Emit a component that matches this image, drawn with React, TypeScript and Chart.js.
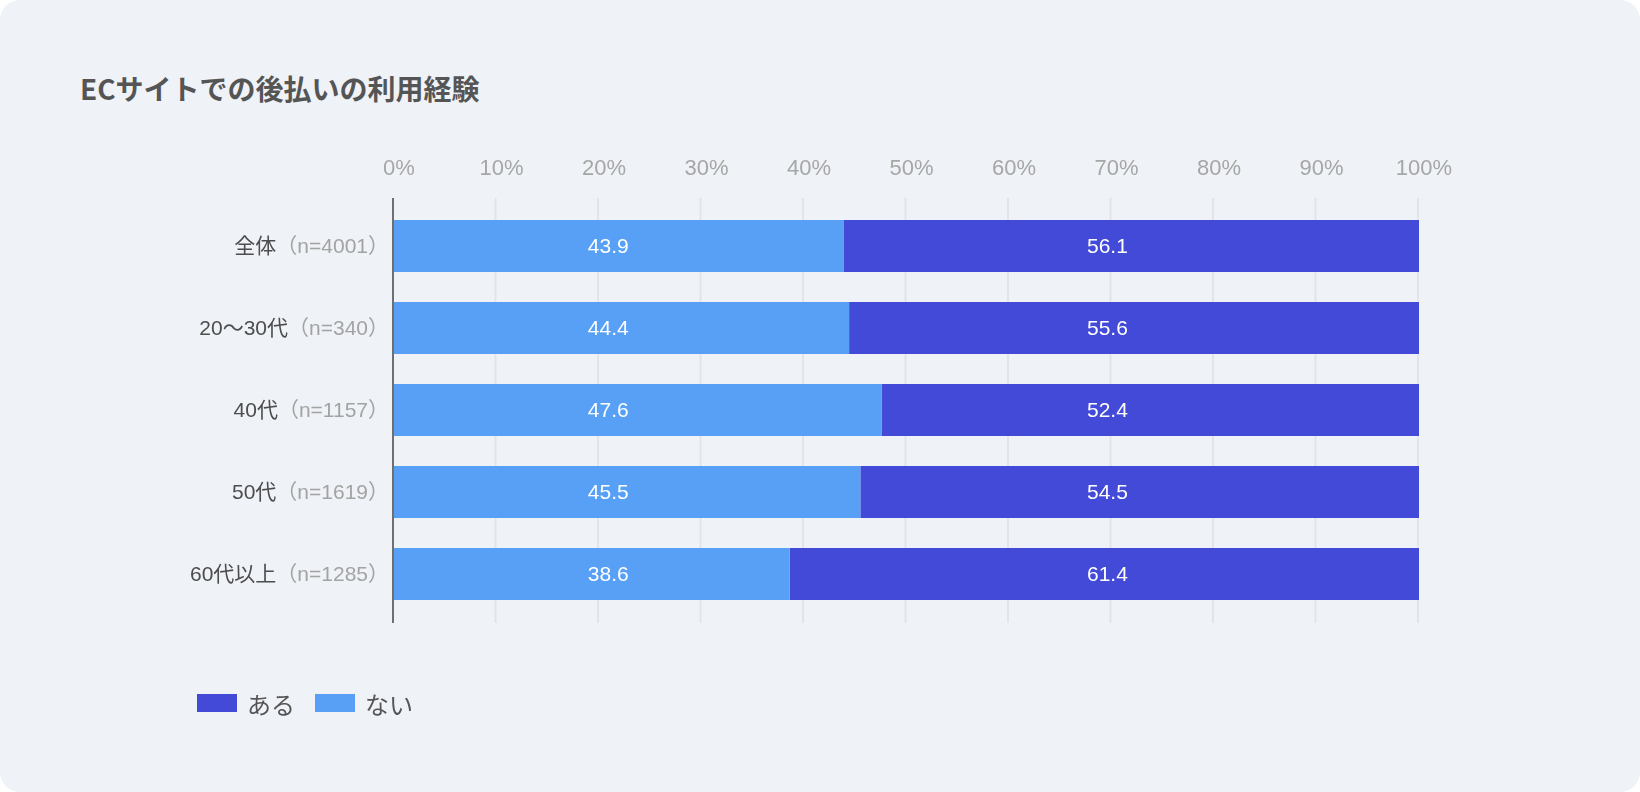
import React, { useEffect, useRef } from 'react';
import { Chart, registerables } from 'chart.js';

Chart.register(...registerables);

const categories = ['全体', '20〜30代', '40代', '50代', '60代以上'];
const sampleSizes = ['（n=4001）', '（n=340）', '（n=1157）', '（n=1619）', '（n=1285）'];
const naiValues = [43.9, 44.4, 47.6, 45.5, 38.6];
const aruValues = [56.1, 55.6, 52.4, 54.5, 61.4];
const seriesNames = ['ある', 'ない'];
const title = 'ECサイトでの後払いの利用経験';

const COLOR_ARU = '#424ad7';
const COLOR_NAI = '#57a0f5';
const FONT = '"Liberation Sans", "Noto Sans CJK JP", sans-serif';
const CJK = '"Noto Sans CJK JP", "Liberation Sans", sans-serif';

export default function App() {
  const ref = useRef<HTMLCanvasElement>(null);

  useEffect(() => {
    document.body.style.margin = '0';
    const canvas = ref.current;
    if (!canvas) return;

    const overlay = {
      id: 'overlay',
      beforeDatasetsDraw(chart: any) {
        const { ctx, chartArea, scales } = chart;
        const xs = scales.x;
        const top = chartArea.top - 7;
        const bottom = chartArea.bottom + 8;
        ctx.save();
        ctx.lineWidth = 2;
        xs.ticks.forEach((t: any) => {
          const px = xs.getPixelForValue(t.value) - 1;
          ctx.strokeStyle = t.value === 0 ? '#6f6f6f' : '#e2e4e8';
          ctx.beginPath();
          ctx.moveTo(px, top);
          ctx.lineTo(px, bottom);
          ctx.stroke();
        });
        ctx.restore();
      },
      afterDatasetsDraw(chart: any) {
        const { ctx, scales } = chart;
        const xs = scales.x;
        const ys = scales.y;
        ctx.save();
        ctx.textBaseline = 'middle';
        // category labels
        const xR = xs.getPixelForValue(0) - 5;
        categories.forEach((c, i) => {
          const y = ys.getPixelForValue(i) + 1;
          ctx.font = `21px ${FONT}`;
          ctx.textAlign = 'right';
          ctx.fillStyle = '#a3a3a3';
          ctx.fillText(sampleSizes[i], xR, y);
          const w = ctx.measureText(sampleSizes[i]).width;
          ctx.fillStyle = '#4d4d4d';
          ctx.fillText(c, xR - w, y);
        });
        // value labels
        ctx.font = `21px ${FONT}`;
        ctx.textAlign = 'center';
        ctx.fillStyle = '#ffffff';
        const xNai = xs.getPixelForValue(20.9);
        const xAru = xs.getPixelForValue(69.6);
        categories.forEach((_, i) => {
          const y = ys.getPixelForValue(i) + 1;
          ctx.fillText(naiValues[i].toFixed(1), xNai, y);
          ctx.fillText(aruValues[i].toFixed(1), xAru, y);
        });
        ctx.restore();
      },
    };

    const chart = new Chart(canvas, {
      type: 'bar',
      data: {
        labels: categories,
        datasets: [
          {
            label: seriesNames[1],
            data: naiValues,
            backgroundColor: COLOR_NAI,
            borderWidth: 0,
            barPercentage: 52 / 82,
            categoryPercentage: 1,
          },
          {
            label: seriesNames[0],
            data: aruValues,
            backgroundColor: COLOR_ARU,
            borderWidth: 0,
            barPercentage: 52 / 82,
            categoryPercentage: 1,
          },
        ],
      },
      options: {
        indexAxis: 'y',
        responsive: false,
        animation: false,
        layout: { padding: { top: 0, left: 0, right: 221, bottom: 177 } },
        plugins: {
          legend: { display: false },
          tooltip: { enabled: false },
          title: { display: false },
        },
        scales: {
          x: {
            position: 'top',
            stacked: true,
            min: 0,
            max: 100,
            grid: { display: false, drawTicks: false },
            border: { display: false },
            ticks: {
              stepSize: 10,
              padding: 23,
              labelOffset: 5,
              color: '#a6a6a6',
              font: { family: FONT, size: 22 },
              callback: (v: any) => `${v}%`,
            },
            afterFit: (scale: any) => {
              scale.height = 205;
            },
          },
          y: {
            stacked: true,
            grid: { display: false, drawTicks: false },
            border: { display: false },
            ticks: { display: false },
            afterFit: (scale: any) => {
              scale.width = 394;
            },
          },
        },
      },
      plugins: [overlay],
    });

    return () => chart.destroy();
  }, []);

  return (
    <div style={{ position: 'fixed', left: 0, top: 0, width: 1640, height: 792, background: '#ffffff' }}>
      <div
        style={{
          position: 'absolute',
          left: 0,
          top: 0,
          width: 1640,
          height: 792,
          borderRadius: 20,
          background: '#eff2f7',
          overflow: 'hidden',
        }}
      >
        <div
          style={{
            position: 'absolute',
            left: 80,
            top: 74,
            fontFamily: CJK,
            fontWeight: 700,
            fontSize: 28,
            lineHeight: '28px',
            color: '#555555',
            whiteSpace: 'nowrap',
          }}
        >
          {title}
        </div>
        <canvas ref={ref} width={1640} height={792} style={{ position: 'absolute', left: 0, top: 0 }} />
        <div
          style={{
            position: 'absolute',
            left: 197,
            top: 683,
            height: 40,
            display: 'flex',
            alignItems: 'center',
            fontFamily: CJK,
            fontSize: 24,
            color: '#555555',
          }}
        >
          {[COLOR_ARU, COLOR_NAI].map((c, i) => (
            <div key={i} style={{ display: 'flex', alignItems: 'center', marginRight: 20 }}>
              <div style={{ width: 40, height: 18, background: c, marginRight: 10 }} />
              <span>{seriesNames[i]}</span>
            </div>
          ))}
        </div>
      </div>
    </div>
  );
}
